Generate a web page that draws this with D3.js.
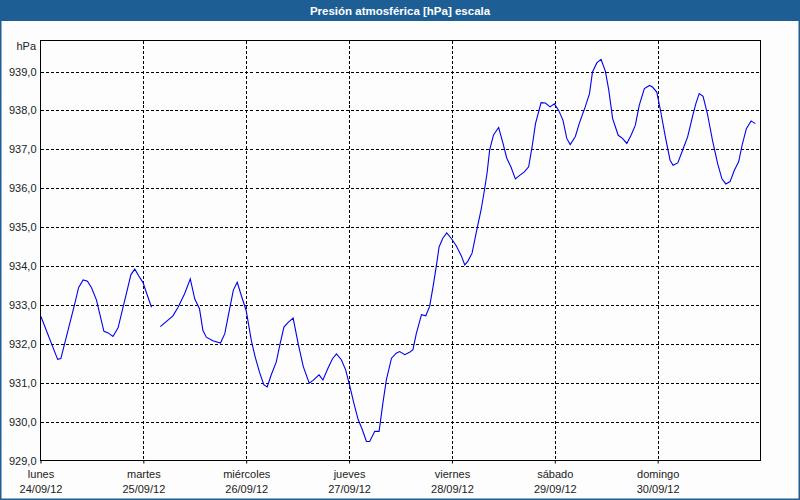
<!DOCTYPE html>
<html>
<head>
<meta charset="utf-8">
<script src="https://cdn.jsdelivr.net/npm/d3@7/dist/d3.min.js"></script>
<style>
  html, body { margin: 0; padding: 0; background: #ffffff; }
  svg { display: block; }
  text { font-family: Tahoma, "Liberation Sans", "DejaVu Sans", sans-serif; }
</style>
</head>
<body>
<script>
// ---- data ----
const title = "Presión atmosférica [hPa] escala";
const unitLabel = "hPa";
const dayNames = ["lunes", "martes", "miércoles", "jueves", "viernes", "sábado", "domingo"];
const dayDates = ["24/09/12", "25/09/12", "26/09/12", "27/09/12", "28/09/12", "29/09/12", "30/09/12"];
const yTicks = [929, 930, 931, 932, 933, 934, 935, 936, 937, 938, 939];
// hours since lunes 24/09/12 00:00
const hours = [
  0.1, 4.0, 4.75, 8.0, 8.9, 9.95, 10.96, 11.9, 13.05, 14.8, 15.8, 16.9, 18.1, 20.3, 21.1, 22.0, 22.9, 23.9, 24.7, 25.9,
  27.0,
  27.96, 30.9, 32.1, 33.6, 34.95, 36.0, 37.1, 37.9, 38.7, 40.2, 42.0, 43.0, 43.9, 45.0, 45.9, 47.0, 48.0,
  49.2, 50.1, 51.1, 52.1, 52.9, 53.8, 55.0, 55.9, 56.8, 57.8, 58.95, 60.1, 61.3, 62.7, 63.6, 65.0, 65.9,
  67.1, 68.1, 69.05, 70.2, 71.2, 72.2, 73.1, 74.1, 75.1, 76.05, 76.8, 78.0, 79.0, 79.9, 80.7, 81.9, 83.0,
  83.8, 85.0, 86.1, 86.9, 87.7, 88.9, 89.9, 90.8, 91.6, 92.4, 93.0, 93.9, 94.8, 95.9, 97.0, 98.2, 99.0,
  99.7, 100.7, 101.8, 102.8, 103.6, 104.2, 104.8, 105.7, 106.9, 107.9, 108.8, 109.8, 110.8, 111.8, 112.9,
  113.9, 114.7, 115.5, 116.8, 117.8, 118.9, 119.9, 120.9, 121.9, 122.8, 123.6, 124.8, 125.7, 127.1, 128.1,
  128.8, 129.8, 130.8, 131.8, 132.6, 133.5, 134.8, 135.8, 136.8, 137.8, 138.8, 139.7, 140.9, 142.1, 142.8,
  143.8, 144.8, 145.8, 146.9, 147.6, 148.7, 149.8, 151.0, 152.2, 152.9, 153.7, 154.6, 155.6, 156.8, 158.0,
  159.0, 159.9, 160.9, 161.9, 162.9, 163.7, 164.7, 165.8, 166.8
];
const pressure = [
  932.70, 931.60, 931.62, 933.03, 933.45, 933.64, 933.61, 933.44, 933.13, 932.32, 932.28, 932.19, 932.41, 933.41, 933.78, 933.92, 933.75, 933.58, 933.32, 932.94,
  null,
  932.44, 932.72, 932.94, 933.28, 933.67, 933.15, 932.90, 932.34, 932.17, 932.08, 932.02, 932.26, 932.77, 933.38, 933.58, 933.19, 932.85,
  932.08, 931.66, 931.27, 930.95, 930.89, 931.19, 931.53, 932.00, 932.43, 932.55, 932.66, 932.02, 931.42, 930.99, 931.06, 931.20, 931.07,
  931.38, 931.61, 931.74, 931.59, 931.33, 930.90, 930.48, 930.06, 929.79, 929.49, 929.49, 929.75, 929.75, 930.48, 931.07, 931.63, 931.76,
  931.80, 931.72, 931.78, 931.85, 932.27, 932.75, 932.72, 932.96, 933.47, 934.03, 934.49, 934.72, 934.85, 934.70, 934.52, 934.26, 934.03,
  934.12, 934.33, 934.93, 935.44, 935.96, 936.39, 936.98, 937.37, 937.56, 937.16, 936.77, 936.54, 936.24, 936.33, 936.42,
  936.55, 937.06, 937.66, 938.20, 938.19, 938.09, 938.17, 938.00, 937.75, 937.28, 937.12, 937.33, 937.66, 938.09, 938.43,
  938.99, 939.22, 939.31, 939.01, 938.52, 937.79, 937.36, 937.28, 937.15, 937.36, 937.62, 938.13, 938.56, 938.64, 938.60,
  938.47, 937.92, 937.32, 936.72, 936.59, 936.65, 936.97, 937.32, 937.87, 938.17, 938.43, 938.36, 937.92, 937.23, 936.63,
  936.24, 936.11, 936.17, 936.46, 936.68, 937.10, 937.53, 937.73, 937.66
];

// ---- layout ----
const W = 800, H = 500;
const startDate = new Date(2012, 8, 24, 0, 0, 0);
const endDate = new Date(2012, 9, 1, 0, 0, 0);
const plot = { left: 40.5, right: 760.5, top: 40.5, bottom: 460.5 };

const svg = d3.select("body").append("svg").attr("width", W).attr("height", H);

// background & outer frame
svg.append("rect").attr("x", 0).attr("y", 0).attr("width", W).attr("height", H).attr("fill", "#fcfdfc");
svg.append("rect").attr("x", 0.75).attr("y", 0.75).attr("width", W - 1.5).attr("height", H - 1.5)
  .attr("fill", "none").attr("stroke", "#1d5f95").attr("stroke-width", 1.5);
// title bar
svg.append("rect").attr("x", 0).attr("y", 0).attr("width", W).attr("height", 21).attr("fill", "#1d5f95");
svg.append("text").attr("x", W / 2).attr("y", 15).attr("text-anchor", "middle")
  .attr("fill", "#ffffff").attr("font-weight", "bold").attr("font-size", "11.5px").text(title);

const x = d3.scaleTime().domain([startDate, endDate]).range([plot.left, plot.right]);
const y = d3.scaleLinear().domain([929, 939]).range([plot.bottom, 71.5]);

const data = hours.map((h, i) => ({ t: new Date(startDate.getTime() + h * 3600e3), v: pressure[i] }));
const dayTicks = d3.timeDay.range(startDate, endDate);

// horizontal grid
svg.append("g").selectAll("line").data(yTicks.slice(1)).join("line")
  .attr("x1", plot.left).attr("x2", plot.right)
  .attr("y1", d => Math.round(y(d)) + 0.5).attr("y2", d => Math.round(y(d)) + 0.5)
  .attr("stroke", "#000").attr("stroke-dasharray", "3,2").attr("shape-rendering", "crispEdges");
// vertical grid
svg.append("g").selectAll("line").data(dayTicks.slice(1)).join("line")
  .attr("x1", d => Math.round(x(d)) + 0.5).attr("x2", d => Math.round(x(d)) + 0.5)
  .attr("y1", plot.top).attr("y2", plot.bottom)
  .attr("stroke", "#000").attr("stroke-dasharray", "3,2").attr("shape-rendering", "crispEdges");

// frame
svg.append("rect").attr("x", plot.left).attr("y", plot.top)
  .attr("width", plot.right - plot.left).attr("height", plot.bottom - plot.top)
  .attr("fill", "none").attr("stroke", "#000").attr("shape-rendering", "crispEdges");

// y axis labels
const yAxis = d3.axisLeft(y).tickValues(yTicks).tickSize(0).tickPadding(4)
  .tickFormat(d => d3.format(".1f")(d).replace(".", ","));
const gy = svg.append("g").attr("transform", `translate(${plot.left},0)`).call(yAxis);
gy.select(".domain").remove();
gy.selectAll("text").attr("font-size", "11px").attr("fill", "#222")
  .style("font-family", "Tahoma, 'Liberation Sans', sans-serif");
svg.append("text").attr("x", 36).attr("y", 50).attr("text-anchor", "end")
  .attr("font-size", "11px").attr("fill", "#222").text(unitLabel);

// x axis labels
const xAxis = d3.axisBottom(x).tickValues(dayTicks).tickSize(3).tickFormat((d, i) => dayNames[i]);
const gx = svg.append("g").attr("transform", `translate(0,${plot.bottom})`).call(xAxis);
gx.select(".domain").remove();
gx.selectAll(".tick line").attr("stroke", "#000");
gx.selectAll(".tick text").attr("font-size", "11px").attr("fill", "#222")
  .style("font-family", "Tahoma, 'Liberation Sans', sans-serif").attr("dy", "0.71em").attr("y", 10);
gx.selectAll(".tick").append("text").attr("y", 25).attr("dy", "0.71em").attr("text-anchor", "middle")
  .attr("font-size", "11px").attr("fill", "#222")
  .style("font-family", "Tahoma, 'Liberation Sans', sans-serif")
  .text((d, i) => dayDates[i]);

// pressure line
const line = d3.line().defined(d => d.v !== null).x(d => x(d.t)).y(d => y(d.v));
svg.append("path").datum(data).attr("d", line)
  .attr("fill", "none").attr("stroke", "#0000f0").attr("stroke-width", 1.1);
</script>
</body>
</html>
